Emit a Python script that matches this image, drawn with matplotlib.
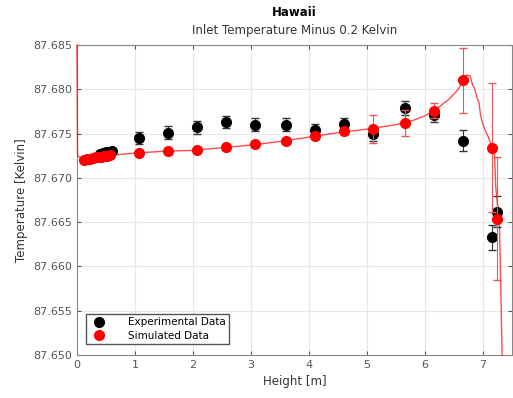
import numpy as np
import matplotlib
matplotlib.use("Agg")
import matplotlib.pyplot as plt
from matplotlib.lines import Line2D

# experimental data
h_exp = [0.40, 0.45, 0.50, 0.55, 0.60, 1.07, 1.57, 2.07, 2.57, 3.07, 3.60, 4.10, 4.60, 5.10, 5.65, 6.15, 6.65, 7.15, 7.25]
t_exp = [87.6727, 87.6728, 87.6729, 87.6729, 87.6730, 87.6745, 87.6751, 87.6757, 87.6763, 87.6760, 87.6760,
         87.6754, 87.6761, 87.6750, 87.6779, 87.6771, 87.6742, 87.6633, 87.6662]
e_exp = [0.0003, 0.0003, 0.0003, 0.0003, 0.0003, 0.0007, 0.0007, 0.0007, 0.0007, 0.0007, 0.0007,
         0.0007, 0.0007, 0.0008, 0.0008, 0.0008, 0.0012, 0.0014, 0.0018]

# simulated data at measurement heights
h_sim = [0.12, 0.17, 0.22, 0.27, 0.32, 0.37, 0.42, 0.47, 0.52, 0.57, 1.07, 1.57, 2.07, 2.57, 3.07, 3.60,
         4.10, 4.60, 5.10, 5.65, 6.15, 6.65, 7.15, 7.25]
t_sim = [87.6720, 87.6721, 87.6721, 87.6722, 87.6723, 87.6723, 87.6724, 87.6725, 87.6725, 87.6726, 87.6728,
         87.6730, 87.6731, 87.6735, 87.6738, 87.6742, 87.6747, 87.6753, 87.6755, 87.6762, 87.6776, 87.6810,
         87.6734, 87.6654]
e_sim = [0.0002] * 10 + [0.0003, 0.0003, 0.0003, 0.0003, 0.0003, 0.0003, 0.0003, 0.0003, 0.0016, 0.0015,
                         0.0008, 0.0037, 0.0073, 0.0069]

# simulated profile
h_line = [0.0, 0.01, 0.1, 0.5, 1.0, 1.5, 2.0, 2.5, 3.0, 3.5, 4.0, 4.5, 5.0, 5.5, 5.8, 6.0, 6.2, 6.4, 6.55,
          6.65, 6.72, 6.78, 6.82, 6.86, 6.9, 6.93, 6.96, 7.0, 7.05, 7.1, 7.15, 7.2, 7.22, 7.25, 7.28, 7.3, 7.33]
t_line = [87.6850, 87.6725, 87.6721, 87.6725, 87.6728, 87.6730, 87.6731, 87.6734, 87.6737, 87.6741, 87.6746,
          87.6751, 87.6755, 87.6760, 87.6765, 87.6770, 87.6778, 87.6788, 87.6798, 87.6808, 87.6816, 87.6815,
          87.6805, 87.6800, 87.6790, 87.6785, 87.6770, 87.6760, 87.6752, 87.6745, 87.6734, 87.6725, 87.6690,
          87.6670, 87.6660, 87.6600, 87.6500]

fig = plt.figure(figsize=(5.13, 3.98), dpi=100)
ax = fig.add_axes([0.150, 0.108, 0.848, 0.779])

ax.plot(h_line, t_line, "-", color="red", lw=1.0, alpha=0.7, zorder=3, clip_on=False)
ax.errorbar(h_exp, t_exp, yerr=e_exp, fmt="o", color="black", ms=7, ecolor="#333333",
            elinewidth=0.8, capsize=3, zorder=3)
ax.errorbar(h_sim, t_sim, yerr=e_sim, fmt="o", color="red", ms=7, ecolor="#ee5555",
            elinewidth=0.8, capsize=3, zorder=4)

ax.set_xlim(0, 7.5)
ax.set_ylim(87.650, 87.685)
ax.set_xticks(range(0, 8))
ax.set_yticks(np.arange(87.650, 87.6851, 0.005))
ax.yaxis.set_major_formatter(matplotlib.ticker.FormatStrFormatter("%.3f"))
ax.grid(True, color="#e6e6e6", lw=0.8)
ax.tick_params(direction="in", top=True, right=True, labelsize=8, colors="#555555", length=3)
for s in ax.spines.values():
    s.set_color("#888888")

ax.set_xlabel("Height [m]", fontsize=8.5, color="#333333")
ax.set_ylabel("Temperature [Kelvin]", fontsize=8.5, color="#333333")
ax.set_title("Inlet Temperature Minus 0.2 Kelvin", fontsize=8.5, color="#333333", pad=8)
fig.text(0.573, 0.968, "Hawaii", ha="center", va="center", fontsize=8.5, weight="bold")

handles = [Line2D([], [], ls="none", marker="o", color="black", ms=7),
           Line2D([], [], ls="none", marker="o", color="red", ms=7)]
ax.legend(handles, ["Experimental Data", "Simulated Data"], loc="lower left", fontsize=7.5,
          frameon=True, fancybox=False, edgecolor="#555555", framealpha=1,
          bbox_to_anchor=(0.015, 0.03), handletextpad=1.8, borderpad=0.3, labelspacing=0.3,
          borderaxespad=0.2)

fig.savefig("out.png", dpi=100)
